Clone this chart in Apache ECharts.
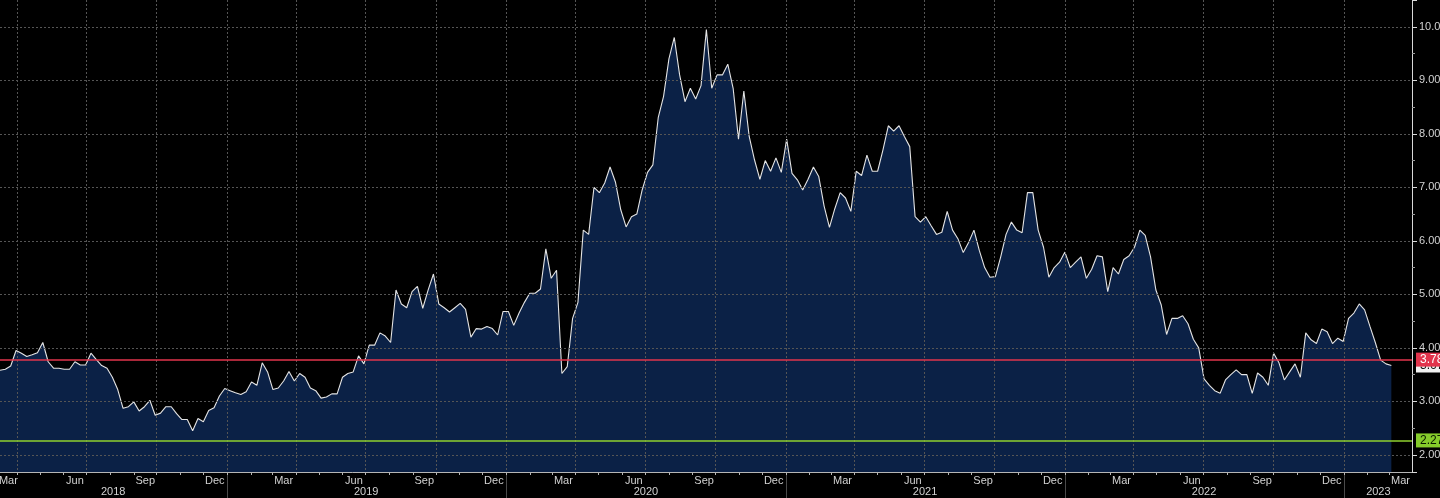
<!DOCTYPE html>
<html>
<head>
<meta charset="utf-8">
<script src="https://cdn.jsdelivr.net/npm/echarts@6/dist/echarts.min.js"></script>
<style>
html,body{margin:0;padding:0;background:#000;}
#chart{width:1440px;height:498px;}
</style>
</head>
<body>
<div id="chart"></div>
<script>
// ---- data (weekly readings from 2018-03-10) ----
const seriesStart = '2018-03-10';
const seriesStepDays = 7;
const seriesValues = [
  3.58,3.60,3.66,3.95,3.90,3.84,3.87,3.91,4.10,3.74,
  3.62,3.62,3.60,3.60,3.74,3.68,3.68,3.90,3.78,3.67,
  3.62,3.45,3.22,2.87,2.90,2.99,2.82,2.90,3.02,2.74,
  2.78,2.90,2.90,2.77,2.66,2.66,2.45,2.68,2.62,2.83,
  2.88,3.10,3.24,3.20,3.16,3.13,3.18,3.36,3.30,3.72,
  3.55,3.22,3.25,3.38,3.56,3.38,3.52,3.45,3.25,3.20,
  3.06,3.08,3.14,3.14,3.45,3.52,3.55,3.85,3.70,4.05,
  4.05,4.28,4.22,4.10,5.08,4.82,4.75,5.05,5.15,4.74,
  5.08,5.38,4.82,4.75,4.67,4.75,4.83,4.72,4.20,4.36,
  4.35,4.40,4.36,4.24,4.68,4.68,4.42,4.65,4.85,5.02,
  5.02,5.10,5.85,5.30,5.45,3.52,3.65,4.55,4.85,6.20,
  6.12,7.00,6.90,7.08,7.38,7.10,6.58,6.26,6.45,6.50,
  6.95,7.28,7.42,8.30,8.70,9.40,9.80,9.10,8.60,8.85,
  8.65,8.90,9.95,8.85,9.10,9.10,9.30,8.85,7.90,8.80,
  7.95,7.51,7.15,7.50,7.30,7.55,7.28,7.90,7.26,7.14,
  6.95,7.15,7.38,7.20,6.65,6.25,6.60,6.90,6.80,6.55,
  7.30,7.22,7.60,7.30,7.30,7.70,8.15,8.05,8.15,7.95,
  7.76,6.45,6.35,6.45,6.28,6.12,6.16,6.55,6.20,6.04,
  5.78,5.97,6.20,5.82,5.50,5.32,5.33,5.70,6.12,6.35,
  6.20,6.15,6.90,6.90,6.20,5.88,5.32,5.50,5.60,5.79,
  5.50,5.60,5.70,5.30,5.47,5.72,5.70,5.05,5.50,5.38,
  5.65,5.72,5.88,6.20,6.10,5.70,5.08,4.80,4.25,4.55,
  4.55,4.60,4.45,4.16,4.00,3.42,3.30,3.20,3.15,3.40,
  3.50,3.59,3.50,3.50,3.15,3.53,3.45,3.30,3.90,3.72,
  3.40,3.55,3.70,3.45,4.28,4.15,4.08,4.35,4.30,4.08,
  4.18,4.12,4.55,4.65,4.82,4.71,4.40,4.10,3.77,3.70,
  3.67
];
const axisStart = '2018-03-10';
const axisEnd = '2023-03-31';
const refHigh = 3.78;
const refLow = 2.27;
const lastValue = 3.67;
const yMin = 1.68;
const yMax = 10.5;
const monthNames = ['Jan','Feb','Mar','Apr','May','Jun','Jul','Aug','Sep','Oct','Nov','Dec'];
const labelMonths = [3, 6, 9, 12];

// ---- build categories (every calendar day) ----
const DAY = 86400000;
const fmt = t => new Date(t).toISOString().slice(0, 10);
const toT = s => Date.UTC(+s.slice(0,4), +s.slice(5,7) - 1, +s.slice(8,10));
const days = [];
for (let t = toT(axisStart); t <= toT(axisEnd); t += DAY) days.push(fmt(t));

const pairs = seriesValues.map((v, k) => [fmt(toT(seriesStart) + k * seriesStepDays * DAY), v]);

const groups = {};
days.forEach((d, i) => {
  const mk = d.slice(0, 7), yk = d.slice(0, 4);
  (groups['m' + mk] = groups['m' + mk] || []).push(i);
  (groups['y' + yk] = groups['y' + yk] || []).push(i);
});
const monthLabelSet = new Set();
const yearLabelSet = new Set();
Object.keys(groups).forEach(k => {
  const arr = groups[k];
  const mid = Math.round((arr[0] + arr[arr.length - 1]) / 2);
  if (k[0] === 'm') {
    if (labelMonths.includes(+k.slice(6, 8))) monthLabelSet.add(mid);
  } else {
    yearLabelSet.add(mid);
  }
});
const monthTickSet = new Set(), quarterSet = new Set(), yearSepSet = new Set();
days.forEach((d, i) => {
  if (i === 0) return;
  if (d.endsWith('-01')) {
    monthTickSet.add(i);
    const m = +d.slice(5, 7);
    if ([1, 4, 7, 10].includes(m)) quarterSet.add(i);
    if (m === 1) yearSepSet.add(i);
  }
});

const gridColor = '#555555';
const textColor = '#d2d2d2';
const font = 'Liberation Sans';

const chart = echarts.init(document.getElementById('chart'), null, { renderer: 'canvas' });
chart.setOption({
  backgroundColor: '#000',
  animation: false,
  grid: { left: 0, right: 28, top: 0, bottom: 26, containLabel: false, outerBoundsMode: 'none' },
  xAxis: [
    {
      type: 'category', data: days, boundaryGap: false, position: 'bottom', z: 3,
      axisLine: { show: true, lineStyle: { color: '#b5b5b5', width: 1 } },
      axisTick: { show: true, interval: i => monthTickSet.has(i), length: 3, lineStyle: { color: '#b5b5b5' } },
      axisLabel: {
        show: true, interval: i => monthLabelSet.has(i),
        formatter: v => monthNames[+v.slice(5, 7) - 1],
        color: textColor, fontSize: 11, fontFamily: font, margin: 3
      },
      splitLine: { show: true, interval: i => quarterSet.has(i), lineStyle: { color: gridColor, type: [2, 2], width: 1 } }
    },
    {
      type: 'category', data: days, boundaryGap: false, position: 'bottom', offset: 0,
      axisLine: { show: false },
      axisTick: { show: true, interval: i => yearSepSet.has(i), length: 26, lineStyle: { color: '#4a4a4a' } },
      axisLabel: {
        show: true, interval: i => yearLabelSet.has(i),
        formatter: v => v.slice(0, 4),
        color: textColor, fontSize: 11, fontFamily: font, margin: 14
      },
      splitLine: { show: false }
    }
  ],
  yAxis: {
    type: 'value', position: 'right', min: yMin, max: yMax, splitNumber: 8, z: 3,
    axisLine: { show: true, lineStyle: { color: '#d8d8d8', width: 1 } },
    axisTick: { show: true, length: 5, lineStyle: { color: '#d8d8d8' } },
    minorTick: { show: true, splitNumber: 2, length: 3, lineStyle: { color: '#9a9a9a' } },
    axisLabel: {
      showMinLabel: false, showMaxLabel: false,
      formatter: v => Math.abs(v - Math.round(v)) < 1e-6 ? v.toFixed(2) : '',
      color: textColor, fontSize: 11, fontFamily: font, margin: 7
    },
    splitLine: { show: true, showMinLine: false, showMaxLine: false, lineStyle: { color: gridColor, type: [2, 2], width: 1 } }
  },
  series: [{
    type: 'line', data: pairs, xAxisIndex: 0, yAxisIndex: 0,
    showSymbol: false, symbol: 'none', z: 2,
    lineStyle: { color: '#e4e4e4', width: 1.1 },
    areaStyle: { color: '#0b2146', opacity: 1 },
    markLine: {
      silent: true, symbol: 'none', animation: false,
      data: [
        { yAxis: lastValue, lineStyle: { color: 'rgba(0,0,0,0)', width: 0 },
          label: { show: true, position: 'end', distance: 4, formatter: lastValue.toFixed(2),
            color: '#111', backgroundColor: '#f2f2f2', padding: [1, 4, 1, 4], fontSize: 12, fontFamily: font } },
        { yAxis: refLow, lineStyle: { color: '#8fd12f', width: 1.5, type: 'solid' },
          label: { show: true, position: 'end', distance: 4, formatter: refLow.toFixed(2),
            color: '#0a1a00', backgroundColor: '#86cc2b', padding: [1, 4, 1, 4], fontSize: 12, fontFamily: font } },
        { yAxis: refHigh, lineStyle: { color: '#e2344c', width: 1.5, type: 'solid' },
          label: { show: true, position: 'end', distance: 4, formatter: refHigh.toFixed(2),
            color: '#ffffff', backgroundColor: '#e2344c', padding: [1, 4, 1, 4], fontSize: 12, fontFamily: font } }
      ]
    }
  }]
});
</script>
</body>
</html>
